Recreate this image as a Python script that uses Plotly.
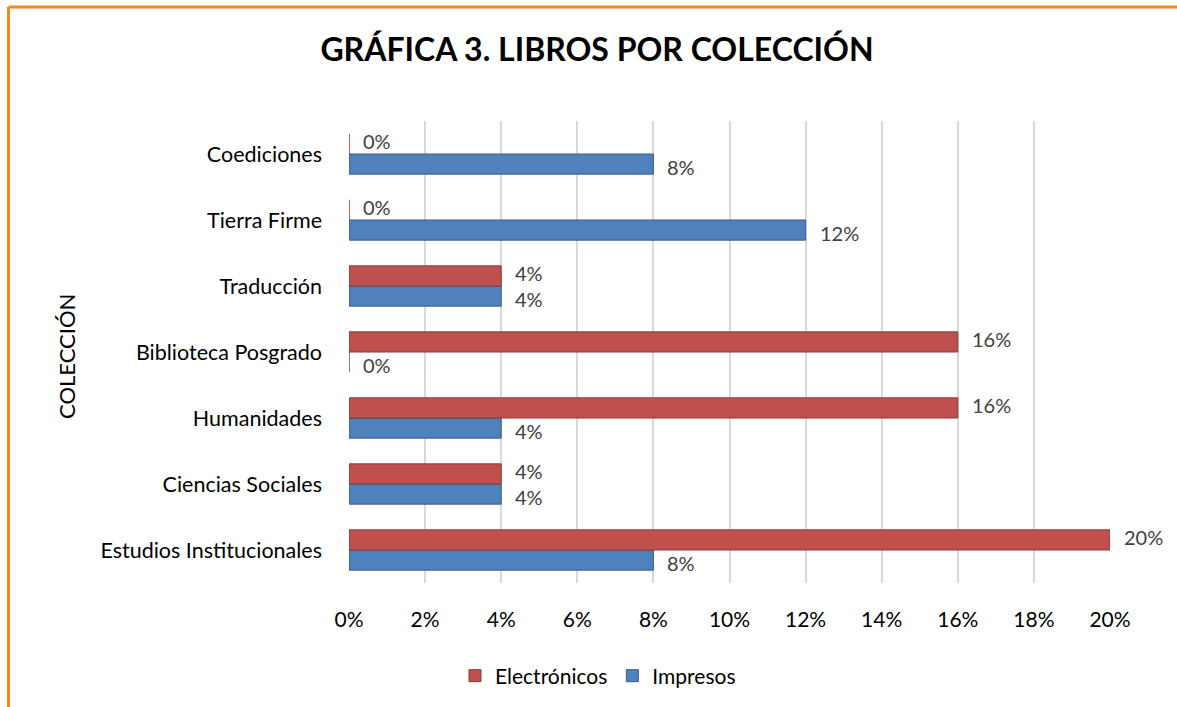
import plotly.graph_objects as go

categories = ["Estudios Institucionales", "Ciencias Sociales", "Humanidades",
              "Biblioteca Posgrado", "Traducción", "Tierra Firme", "Coediciones"]
impresos = [8, 4, 4, 0, 4, 12, 8]
electronicos = [20, 4, 16, 16, 4, 0, 0]
x_ticks = [0, 2, 4, 6, 8, 10, 12, 14, 16, 18, 20]

W, H = 1177, 707
ML, MR, MT, MB = 349, 67, 121, 124
PW, PH = W - ML - MR, H - MT - MB

def px_x(px):
    return (px - ML) / PW

def px_y(py):
    return (H - MB - py) / PH

FONT = "Lato"
RED, RED_D = "#C0504D", "#8C3836"
BLUE, BLUE_D = "#4F81BD", "#385D8A"
LBL = dict(family=FONT, size=20, color="#404040")

fig = go.Figure()
fig.add_trace(go.Bar(
    y=categories, x=impresos, orientation="h", name="Impresos",
    marker=dict(color=BLUE, line=dict(color=BLUE_D, width=1)),
    hoverinfo="x+y",
))
fig.add_trace(go.Bar(
    y=categories, x=electronicos, orientation="h", name="Electrónicos",
    marker=dict(color=RED, line=dict(color=RED_D, width=1)),
    hoverinfo="x+y",
))

# data labels placed via the axes (category + value), nudged apart vertically
annotations = []
for vals, shift in ((electronicos, 13), (impresos, -13)):
    for cat, v in zip(categories, vals):
        annotations.append(dict(
            x=v, y=cat, xref="x", yref="y", text=f"{v}%", showarrow=False,
            xanchor="left", yanchor="middle", xshift=12, yshift=shift,
            font=LBL))

annotations.append(dict(text="COLECCIÓN", textangle=-90, showarrow=False,
                        xref="paper", yref="paper",
                        x=px_x(66), y=px_y(357),
                        xanchor="center", yanchor="middle",
                        font=dict(family=FONT, size=22, color="black")))

fig.update_layout(
    width=W, height=H,
    margin=dict(l=ML, r=MR, t=MT, b=MB, autoexpand=False),
    paper_bgcolor="white", plot_bgcolor="white",
    barmode="group", bargap=0.39, bargroupgap=0,
    font=dict(family=FONT, size=21, color="black"),
    title=dict(text="<b>GRÁFICA 3. LIBROS POR COLECCIÓN</b>",
               x=597 / W, xanchor="center", xref="container",
               y=1 - 50 / H, yanchor="middle", yref="container",
               font=dict(family=FONT, size=32, color="black")),
    xaxis=dict(range=[0, 20], tickvals=x_ticks,
               ticktext=[f"{v}%" for v in x_ticks],
               showgrid=True, gridcolor="#D9D9D9", gridwidth=2,
               zeroline=False, showline=False, ticks="",
               ticklabelstandoff=22,
               tickfont=dict(family=FONT, size=21, color="black")),
    yaxis=dict(showgrid=False, zeroline=False, showline=False, ticks="",
               ticklabelstandoff=26,
               tickfont=dict(family=FONT, size=21.5, color="black")),
    legend=dict(orientation="h", x=598 / W, xanchor="center", xref="container",
                y=1 - 676 / H, yanchor="middle", yref="container",
                traceorder="reversed",
                font=dict(family=FONT, size=21, color="black")),
    annotations=annotations,
    shapes=[
        dict(type="line", xref="paper", yref="paper",
             x0=px_x(8.5), x1=px_x(W + 10), y0=px_y(7), y1=px_y(7),
             line=dict(color="#F08A1C", width=3)),
        dict(type="line", xref="paper", yref="paper",
             x0=px_x(8.5), x1=px_x(8.5), y0=px_y(7), y1=px_y(H + 10),
             line=dict(color="#F08A1C", width=3)),
    ],
)

fig.write_html("out.html", config={"displayModeBar": False},
               post_script="document.body.style.margin='0';document.body.style.overflow='hidden';")
